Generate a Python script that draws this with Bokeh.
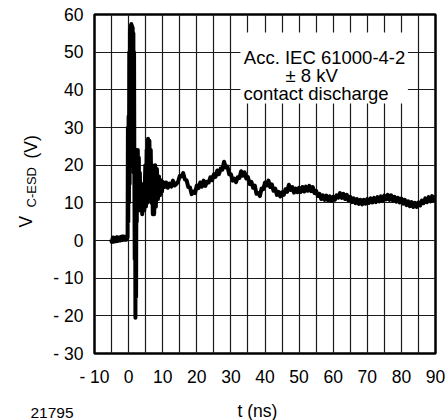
from math import pi
from bokeh.plotting import figure
from bokeh.layouts import row, column
from bokeh.models import FixedTicker, Label, BoxAnnotation, Range1d
from bokeh.embed import file_html
from bokeh.resources import INLINE

FONT = "Liberation Sans"

# ---- axes / ticks ----
x_ticks = [-10, 0, 10, 20, 30, 40, 50, 60, 70, 80, 90]
x_tick_labels = ["- 10", "0", "10", "20", "30", "40", "50", "60", "70", "80", "90"]
x_minor = [-5, 5, 15, 25, 35, 45, 55, 65, 75, 85]
y_ticks = [-30, -20, -10, 0, 10, 20, 30, 40, 50, 60]
y_tick_labels = ["- 30", "- 20", "- 10", "0", "10", "20", "30", "40", "50", "60"]

# ---- waveform ----
t_pre = [-5.2, -4.9, -4.6, -4.3, -4.0, -3.7, -3.4, -3.1, -2.8, -2.5, -2.2, -1.9,
         -1.6, -1.3, -1.0, -0.7, -0.4]
v_pre = [0.3, -0.4, 0.8, -0.3, 0.7, -0.2, 0.9, -0.1, 0.8, 0.0, 1.0, 0.1,
         1.1, 0.2, 1.0, 0.2, 0.9]
t_spike = [-0.3, -0.2, -0.1, 0.0, 0.1, 0.2, 0.3, 0.4, 0.5, 0.6, 0.7, 0.8, 0.9,
           1.0, 1.1, 1.2, 1.3, 1.4, 1.5, 1.6, 1.7, 1.8, 1.9, 2.0, 2.1, 2.2,
           2.3, 2.4, 2.5, 2.6, 2.7, 2.8, 3.0, 3.1, 3.3, 3.5, 3.8, 4.0, 4.3,
           4.6, 4.9, 5.1, 5.3, 5.5, 5.7, 5.9, 6.1, 6.3, 6.5, 6.7, 6.9, 7.1,
           7.3, 7.5, 7.8, 8.0, 8.3, 8.6, 8.9, 9.2, 9.5, 9.8]
v_spike = [0.8, 30, 5, 33, 10, 50, 15, 56, 20, 57, 25, 57.5, 20,
           57, 25, 56.5, 20, 55, 18, 50, 15, -5, 20, -20.5, 10, -15,
           24, 5, 23.8, 8, 24, 10, 22, 8, 18, 9, 15, 7, 12,
           8, 20, 9, 24, 10, 27, 12, 26.5, 14, 24, 10, 20, 7,
           18, 7, 20, 9, 19, 11, 17, 12, 16, 13]
t_settle = [10.0 + 0.5 * i for i in range(161)]
v_settle = [15.6, 14.2, 15.4, 14.0, 15.1, 14.3, 15.9, 14.6, 15.0, 15.6,
            17.1, 17.0, 17.9, 16.2, 16.0, 14.2, 14.1, 12.3, 13.0, 12.6,
            14.6, 13.9, 15.4, 14.3, 15.9, 14.5, 15.6, 15.4, 16.8, 16.0,
            17.6, 16.9, 18.6, 17.6, 19.1, 18.8, 20.9, 19.4, 19.6, 17.6,
            17.6, 15.9, 16.4, 15.5, 16.8, 16.6, 18.4, 17.2, 18.1, 16.5,
            16.8, 15.0, 15.6, 14.0, 14.6, 12.4, 12.6, 11.8, 13.8, 13.6,
            15.4, 14.6, 15.9, 14.2, 14.9, 13.2, 13.8, 12.1, 12.9, 11.7,
            12.8, 12.1, 13.6, 12.9, 14.8, 13.4, 14.2, 12.7, 13.8, 12.8,
            14.0, 12.9, 14.2, 13.0, 14.3, 13.2, 14.5, 13.1, 14.2, 12.6,
            13.2, 11.8, 12.4, 11.0, 12.0, 10.8, 11.9, 10.7, 11.7, 10.5,
            11.6, 10.8, 12.0, 11.4, 12.6, 11.3, 12.4, 11.0, 12.1, 10.6,
            11.6, 10.2, 11.2, 9.9, 11.0, 9.7, 10.8, 9.6, 10.8, 9.8,
            11.0, 10.0, 11.2, 10.1, 11.3, 10.2, 11.5, 10.4, 11.7, 10.6,
            11.9, 10.9, 12.1, 10.8, 12.0, 10.6, 11.6, 10.3, 11.3, 10.1,
            11.1, 9.8, 10.8, 9.4, 10.4, 9.1, 10.2, 8.9, 10.0, 8.9,
            10.1, 9.3, 10.6, 9.9, 11.2, 10.2, 11.5, 10.4, 11.8, 10.7,
            11.9]

t_all = t_pre + t_spike + t_settle
v_all = v_pre + v_spike + v_settle

TOP_H = 392
LEFT_W = 48
TOTAL_W = 447
BOTTOM_H = 420 - TOP_H
B_TOP = 14
B_BOTTOM = 39

# ---- main chart ----
p = figure(width=TOTAL_W - LEFT_W, height=TOP_H, x_range=Range1d(-10, 90), y_range=Range1d(-30, 60),
           output_backend="svg", toolbar_location=None,
           min_border_left=46, min_border_right=12, min_border_top=B_TOP, min_border_bottom=B_BOTTOM)
p.background_fill_color = "white"
p.border_fill_color = "white"
p.outline_line_color = "black"
p.outline_line_width = 2.5

xt = FixedTicker(ticks=x_ticks, minor_ticks=x_minor)
yt = FixedTicker(ticks=y_ticks)
p.xaxis.ticker = xt
p.yaxis.ticker = yt
p.xgrid.ticker = xt
p.ygrid.ticker = yt
p.xaxis.major_label_overrides = {k: v for k, v in zip(x_ticks, x_tick_labels)}
p.yaxis.major_label_overrides = {k: v for k, v in zip(y_ticks, y_tick_labels)}

for ax in (p.xaxis, p.yaxis):
    ax.axis_line_color = None
    ax.major_tick_line_color = None
    ax.minor_tick_line_color = None
    ax.major_tick_in = 0
    ax.major_tick_out = 0
    ax.minor_tick_in = 0
    ax.minor_tick_out = 0
    ax.major_label_text_font = FONT
    ax.major_label_text_font_size = "17.5px"
    ax.major_label_text_color = "black"
p.xaxis.major_label_standoff = 13
p.yaxis.major_label_standoff = 11

for g in (p.xgrid, p.ygrid):
    g.grid_line_color = "#1a1a1a"
    g.grid_line_width = 1.2
    g.grid_line_alpha = 1.0
p.xgrid.minor_grid_line_color = "#1a1a1a"
p.xgrid.minor_grid_line_width = 1.2

p.line(t_all, v_all, line_width=4, color="black", line_join="round")

# white box behind the annotation text
p.add_layout(BoxAnnotation(left=32.8, right=81.9, bottom=36.4, top=55.2,
                           fill_color="white", fill_alpha=1.0, line_color=None))


def lab(fig, x, y, text, size, angle=0.0, align="left", baseline="alphabetic"):
    fig.add_layout(Label(x=x, y=y, text=text, text_font=FONT, text_font_size=size,
                         text_color="black", angle=angle, text_align=align,
                         text_baseline=baseline))


lab(p, 33.8, 48.7, "Acc. IEC 61000-4-2", "18.5px")
lab(p, 46.0, 43.8, "\u00b1 8 kV", "18.5px")
lab(p, 33.7, 38.95, "contact discharge", "18.5px")


def strip(w, h, y_top, y_bottom, b_top, b_bottom):
    f = figure(width=w, height=h, x_range=Range1d(0, w), y_range=Range1d(y_bottom, y_top),
               x_axis_type=None, y_axis_type=None, output_backend="svg",
               toolbar_location=None, min_border=0,
               min_border_left=0, min_border_right=0,
               min_border_top=b_top, min_border_bottom=b_bottom)
    f.title.visible = False
    f.outline_line_color = None
    f.background_fill_color = "white"
    f.border_fill_color = "white"
    return f


# ---- y-axis title: V with subscript C-ESD, then (V) ----
# frame of this strip is aligned with the chart frame (page y 14 .. 353)
left = strip(LEFT_W, TOP_H, B_TOP, TOP_H - B_BOTTOM, B_TOP, B_BOTTOM)
lab(left, 25, 227, "V", "17.5px", angle=pi / 2)
lab(left, 30.5, 207, "C-ESD", "13px", angle=pi / 2)
lab(left, 30, 158, "(V)", "17.5px", angle=pi / 2)

# ---- bottom texts ----
bottom = strip(TOTAL_W, BOTTOM_H, TOP_H, TOP_H + BOTTOM_H, 0, 0)
lab(bottom, 30, 412, "21795", "15.5px")
lab(bottom, 257, 410, "t (ns)", "17.5px", align="center")

layout = column(row(left, p, spacing=0), bottom, spacing=0)
open("out.html", "w").write(file_html(layout, INLINE))
